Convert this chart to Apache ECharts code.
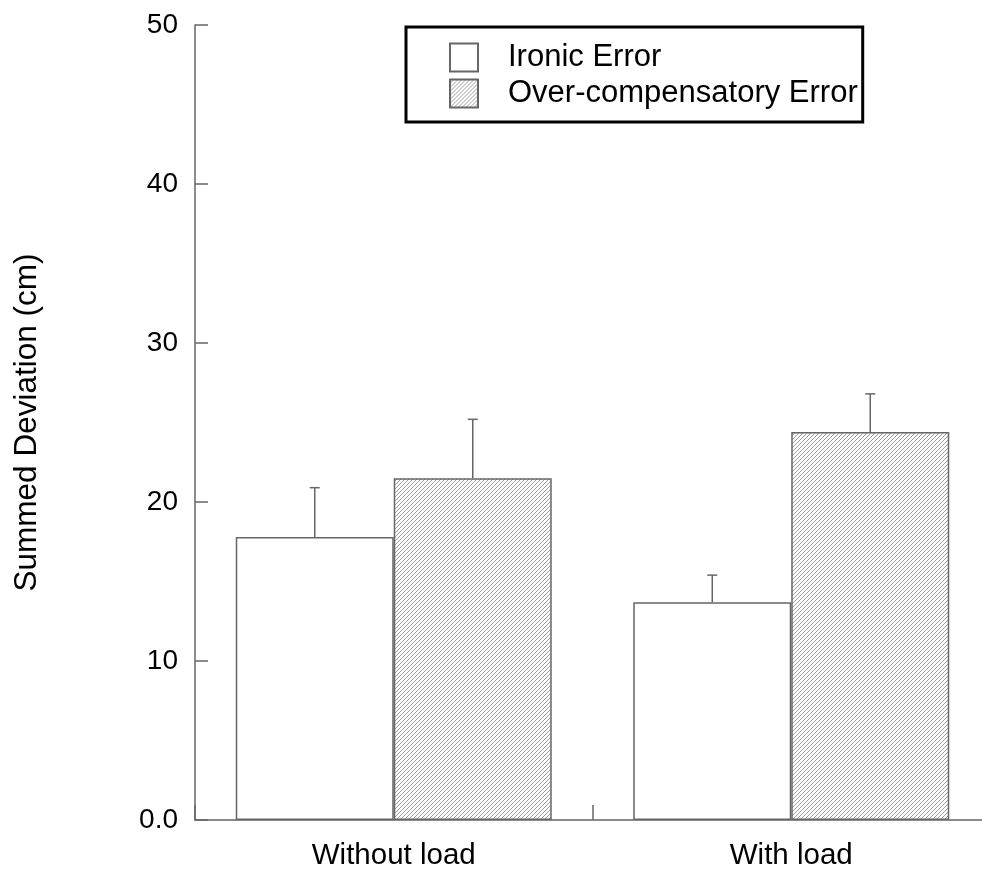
<!DOCTYPE html>
<html>
<head>
<meta charset="utf-8">
<script src="https://cdn.jsdelivr.net/npm/echarts@6/dist/echarts.min.js"></script>
<style>html,body{margin:0;padding:0;background:#fff;}#chart{width:982px;height:873px;}</style>
</head>
<body>
<div id="chart"></div>
<script>
const categories = ['Without load', 'With load'];
const seriesNames = ['Ironic Error', 'Over-compensatory Error'];
const ironicValues = [17.8, 13.7];
const ironicErrors = [3.1, 1.7];
const overValues = [21.5, 24.4];
const overErrors = [3.7, 2.4];
const yTicks = [0, 10, 20, 30, 40, 50];

function makeHatch() {
  const c = document.createElement('canvas');
  c.width = 4; c.height = 4;
  const ctx = c.getContext('2d');
  ctx.fillStyle = '#fff';
  ctx.fillRect(0, 0, 4, 4);
  ctx.strokeStyle = '#9c9c9c';
  ctx.lineWidth = 1;
  ctx.beginPath();
  ctx.moveTo(-1, 5); ctx.lineTo(5, -1);
  ctx.moveTo(-1, 1); ctx.lineTo(1, -1);
  ctx.moveTo(3, 5); ctx.lineTo(5, 3);
  ctx.stroke();
  return c;
}
const hatch = { image: makeHatch(), repeat: 'repeat' };

const BAR_W = 158;
const FONT = 'Liberation Sans, Arial, sans-serif';

function errSeries(values, errors, offset) {
  return {
    type: 'custom',
    silent: true,
    z: 5,
    clip: false,
    data: values.map((v, i) => [i, v, errors[i]]),
    renderItem: function (params, api) {
      const i = api.value(0);
      const base = api.coord([i, api.value(1)]);
      const top = api.coord([i, api.value(1) + api.value(2)]);
      const x = base[0] + offset;
      const style = { stroke: '#666', lineWidth: 1.5 };
      return {
        type: 'group',
        children: [
          { type: 'line', shape: { x1: x, y1: base[1], x2: x, y2: top[1] }, style: style },
          { type: 'line', shape: { x1: x - 5, y1: top[1], x2: x + 5, y2: top[1] }, style: style }
        ]
      };
    }
  };
}

const chart = echarts.init(document.getElementById('chart'), null, { renderer: 'canvas' });
chart.setOption({
  animation: false,
  backgroundColor: '#fff',
  textStyle: { fontFamily: FONT },
  grid: { left: 195, top: 25, bottom: 53, width: 795, outerBoundsMode: 'none', containLabel: false },
  legend: {
    data: seriesNames,
    orient: 'vertical',
    left: 406, top: 27,
    itemWidth: 28, itemHeight: 28, itemGap: 5,
    icon: 'rect',
    borderColor: '#000', borderWidth: 3,
    padding: [15, 5, 13, 43],
    textStyle: { fontSize: 31, lineHeight: 28, color: '#000', fontFamily: FONT, padding: [0, 0, 0, 25] }
  },
  xAxis: {
    type: 'category',
    data: categories,
    boundaryGap: true,
    axisLine: { lineStyle: { color: '#666', width: 1.5 } },
    axisTick: { show: true, interval: 0, alignWithLabel: false, inside: true, length: 15,
      lineStyle: { color: '#666', width: 1.5 } },
    axisLabel: { fontSize: 29.5, color: '#000', margin: 21, fontFamily: FONT }
  },
  yAxis: {
    type: 'value',
    min: yTicks[0], max: yTicks[yTicks.length - 1], interval: 10,
    name: 'Summed Deviation (cm)',
    nameLocation: 'middle',
    nameGap: 152,
    nameTextStyle: { fontSize: 31.5, color: '#000', fontFamily: FONT },
    axisLine: { show: true, lineStyle: { color: '#666', width: 1.5 } },
    axisTick: { show: true, inside: true, length: 13, lineStyle: { color: '#666', width: 1.5 } },
    axisLabel: { fontSize: 28, color: '#000', margin: 17, fontFamily: FONT,
      formatter: v => v === 0 ? '0.0' : String(v) },
    splitLine: { show: false }
  },
  series: [
    { name: seriesNames[0], type: 'bar', data: ironicValues, barWidth: BAR_W, barGap: '0%',
      itemStyle: { color: '#fff', borderColor: '#666', borderWidth: 1.5 } },
    { name: seriesNames[1], type: 'bar', data: overValues, barWidth: BAR_W, barGap: '0%',
      itemStyle: { color: hatch, borderColor: '#666', borderWidth: 1.5 } },
    errSeries(ironicValues, ironicErrors, -BAR_W / 2),
    errSeries(overValues, overErrors, BAR_W / 2)
  ]
});
</script>
</body>
</html>
